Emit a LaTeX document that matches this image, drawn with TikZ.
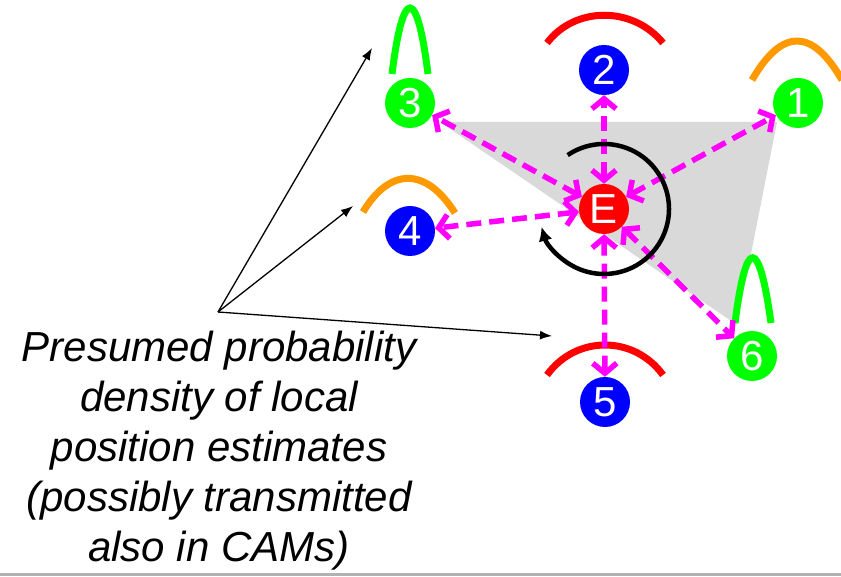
\documentclass[tikz,border=0pt]{standalone}
\usepackage{fontspec}
\setmainfont{Liberation Sans}
\usepackage{xcolor}
\usetikzlibrary{arrows.meta,positioning,calc,backgrounds}

\definecolor{pink}{RGB}{255,0,255}
\definecolor{ora}{RGB}{255,153,0}
\definecolor{lime}{RGB}{0,255,0}
\definecolor{pureblue}{RGB}{0,0,255}
\definecolor{purered}{RGB}{255,0,0}

\begin{document}
\begin{tikzpicture}[
    x=1pt, y=1pt,
    >=Latex,
    car/.style={circle, inner sep=0pt, minimum size=50pt, text=white, font=\fontsize{42}{42}\selectfont},
    pdf/.style={line width=7pt},
    link/.style={pink, line width=5.5pt, dash pattern=on 15pt off 8pt, {Straight Barb[length=10pt, width=24pt, line width=5.5pt]}-{Straight Barb[length=10pt, width=24pt, line width=5.5pt]}},
    hint/.style={-{Latex[length=12pt, width=9pt]}, line width=1.3pt}
]
\useasboundingbox (0,0) rectangle (841,576);
\fill[black!30] (0,0) rectangle (841,3.5);

% neighbours and ego vehicle
\node[car, fill=pureblue] (n2) at (604,506) {2};
\node[car, fill=lime] (n3) at (410,473) {3};
\node[car, fill=lime] (n1) at (798,473) {1};
\node[car, fill=pureblue] (n4) at (410,345) {4};
\node[car, fill=purered] (ego) at (604,367) {E};
\node[car, fill=pureblue] (n5) at (605,174) {5};
\node[car, fill=lime] (n6) at (752,220) {6};

% area spanned by the neighbours, densities
\begin{pgfonlayer}{background}
\fill[black!15] (440,454) -- (777,454) -- (737,251) -- cycle;
\draw[pdf, lime] (392,502) .. controls (403,590) and (417,590) .. (428,502);
\draw[pdf, purered] (547,533) .. controls (575,570) and (633,570) .. (663,533);
\draw[pdf, ora] (752,496) .. controls (782,548) and (812,548) .. (842,496);
\draw[pdf, ora] (363,364) .. controls (390,409) and (426,409) .. (455,363);
\draw[pdf, lime] (735,253) .. controls (746,340) and (759,340) .. (771,253);
\draw[pdf, purered] (547,201) .. controls (576,241) and (634,241) .. (663,201);
\end{pgfonlayer}

\draw[link] (ego) -- (n1);
\draw[link] (ego) -- (n2);
\draw[link] (ego) -- (n3);
\draw[link] (ego) -- (n4);
\draw[link] (ego) -- (n5);
\draw[link] (ego) -- (n6);

% rotation around E
\draw[-{Latex[length=14pt, width=14pt]}, line width=4.5pt] (ego.center) ++(124:65pt) arc[start angle=124, end angle=-164, radius=65pt];

% annotation
\node[align=center, font=\fontsize{42}{50}\selectfont\itshape, anchor=north] (note) at (219,248)
    {Presumed probability\\density of local\\position estimates\\(possibly transmitted\\also in CAMs)};
\coordinate (src) at (218,264);
\coordinate (tip3) at (372,528);
\coordinate (tip4) at (353,370);
\coordinate (tip5) at (552,240);
\draw[hint] (src) -- (tip3);
\draw[hint] (src) -- (tip4);
\draw[hint] (src) -- (tip5);
\end{tikzpicture}
\end{document}
